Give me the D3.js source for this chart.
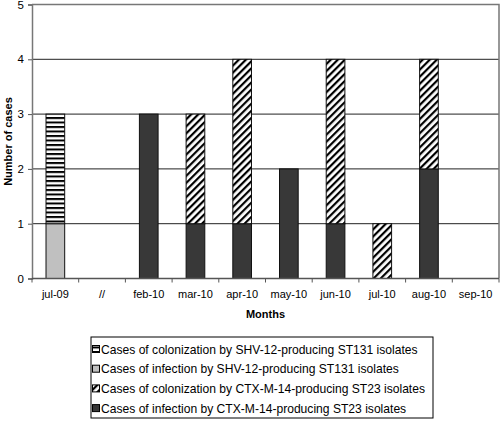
<!DOCTYPE html>
<html><head><meta charset="utf-8">
<script src="https://cdn.jsdelivr.net/npm/d3@7"></script>
<style>body{margin:0;background:#fff}svg{display:block;font-family:"Liberation Sans",Arial,sans-serif}</style>
</head><body><svg id="c" width="500" height="421"></svg>
<script>
const months = ["jul-09","//","feb-10","mar-10","apr-10","may-10","jun-10","jul-10","aug-10","sep-10"];
const shvInfection   = [1,0,0,0,0,0,0,0,0,0];
const ctxInfection   = [0,0,3,1,1,2,1,0,2,0];
const shvColonization= [2,0,0,0,0,0,0,0,0,0];
const ctxColonization= [0,0,0,2,3,0,3,1,2,0];
const yTicks = [0,1,2,3,4,5];
const legendLabels = [
  "Cases of colonization by SHV-12-producing ST131 isolates",
  "Cases of infection by SHV-12-producing ST131 isolates",
  "Cases of colonization by CTX-M-14-producing ST23 isolates",
  "Cases of infection by CTX-M-14-producing ST23 isolates"
];

const svg = d3.select("#c");
const defs = svg.append("defs");
const ph = defs.append("pattern").attr("id","hstripe").attr("patternUnits","userSpaceOnUse").attr("width",8).attr("height",4.5);
ph.append("rect").attr("width",8).attr("height",4.5).attr("fill","#fff");
ph.append("rect").attr("y",0).attr("width",8).attr("height",2).attr("fill","#000");
const pd = defs.append("pattern").attr("id","dstripe").attr("patternUnits","userSpaceOnUse").attr("width",5).attr("height",5).attr("patternTransform","rotate(45)");
pd.append("rect").attr("width",5).attr("height",5).attr("fill","#fff");
pd.append("rect").attr("x",0).attr("width",2.2).attr("height",5).attr("fill","#000");

const L = 32, R = 499, T = 4.5, B = 278.5;
const x = d3.scaleBand().domain(months).range([L,R]).padding(0);
const y = d3.scaleLinear().domain([0,5]).range([B,T]);

// gridlines
svg.append("g").selectAll("line").data([1,2,3,4]).join("line")
  .attr("x1",L).attr("x2",R).attr("y1",d=>y(d)).attr("y2",d=>y(d))
  .attr("stroke","#222").attr("stroke-width",1);
// frame top/right
svg.append("path").attr("d",`M${L},${y(5)}H${R}V${B}`).attr("fill","none").attr("stroke","#777").attr("stroke-width",1.5);

const series = [
  {key:"shvInf", vals:shvInfection, fill:"#c0c0c0"},
  {key:"ctxInf", vals:ctxInfection, fill:"#383838"},
  {key:"shvCol", vals:shvColonization, fill:"url(#hstripe)"},
  {key:"ctxCol", vals:ctxColonization, fill:"url(#dstripe)"}
];
const table = months.map((m,i)=>{const o={month:m}; series.forEach(s=>o[s.key]=s.vals[i]); return o;});
const stacked = d3.stack().keys(series.map(s=>s.key))(table);
const bw = x.bandwidth()*0.4;
stacked.forEach((layer,li)=>{
  svg.append("g").selectAll("rect").data(layer.filter(d=>d[1]-d[0]>0)).join("rect")
    .attr("x",d=>x(d.data.month)+x.bandwidth()/2-bw/2)
    .attr("width",bw)
    .attr("y",d=>y(d[1]))
    .attr("height",d=>y(d[0])-y(d[1]))
    .attr("fill",series[li].fill)
    .attr("stroke","#111").attr("stroke-width",1);
});

// axes
const yAxis = svg.append("g").attr("transform",`translate(${L},0)`)
  .call(d3.axisLeft(y).tickValues(yTicks).tickSize(4).tickPadding(4).tickFormat(d3.format("d")));
yAxis.select(".domain").attr("stroke","#777").attr("stroke-width",1.5);
yAxis.selectAll(".tick line").attr("stroke","#555");
yAxis.selectAll("text").attr("font-size",11.5).attr("fill","#000").attr("font-family","Liberation Sans, Arial");

const xb = svg.append("g").attr("transform",`translate(0,${B})`);
xb.append("line").attr("x1",L).attr("x2",R).attr("stroke","#555").attr("stroke-width",1.5);
xb.selectAll("line.t").data(months.concat(["end"])).join("line").attr("class","t")
  .attr("x1",(d,i)=>L+i*x.step()).attr("x2",(d,i)=>L+i*x.step())
  .attr("y1",0).attr("y2",4).attr("stroke","#555");
xb.selectAll("text").data(months).join("text")
  .attr("x",d=>x(d)+x.bandwidth()/2).attr("y",19).attr("text-anchor","middle")
  .attr("font-size",11).text(d=>d);

svg.append("text").attr("x",(L+R)/2).attr("y",318).attr("text-anchor","middle")
  .attr("font-size",11).attr("font-weight","bold").text("Months");
svg.append("text").attr("transform",`translate(12,${(T+B)/2}) rotate(-90)`).attr("text-anchor","middle")
  .attr("font-size",11).attr("font-weight","bold").text("Number of cases");

// legend
const lg = svg.append("g");
lg.append("rect").attr("x",91).attr("y",337).attr("width",342).attr("height",81)
  .attr("fill","#fff").attr("stroke","#000").attr("stroke-width",1);
const legFills = ["url(#hstripe)","#c0c0c0","url(#dstripe)","#383838"];
legendLabels.forEach((t,i)=>{
  const cy = 349 + i*19.7;
  lg.append("rect").attr("x",92.5).attr("y",cy-3.5).attr("width",7).attr("height",7)
    .attr("fill",legFills[i]).attr("stroke","#000").attr("stroke-width",1);
  lg.append("text").attr("x",101).attr("y",cy+4.5).attr("font-size",12.1).text(t);
});
</script></body></html>
